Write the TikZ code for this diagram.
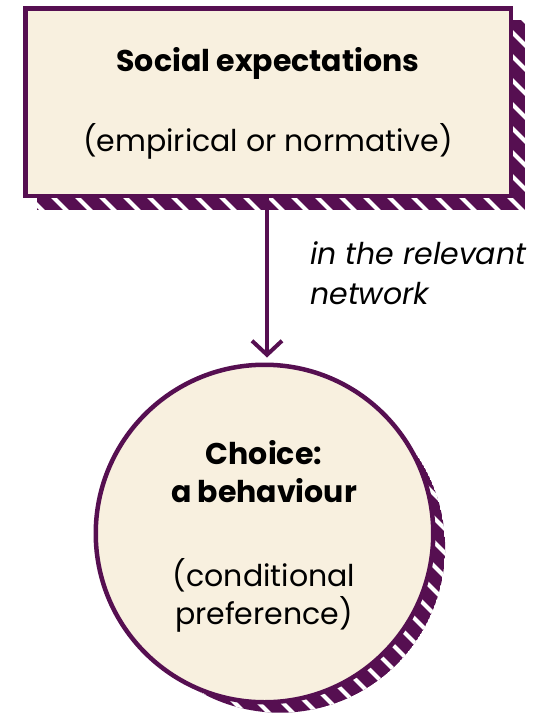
\documentclass[tikz,border=0pt]{standalone}
\usepackage{fontspec}
\setmainfont{Poppins}
\usetikzlibrary{arrows.meta,calc,shapes.geometric}
\definecolor{plum}{HTML}{560F51}
\definecolor{cream}{HTML}{F8F0DF}
\tikzset{
  mainshape/.style={draw=plum, fill=cream, line width=4.5pt, inner sep=0pt, align=center, text=black},
  hatchline/.style={white, line width=4pt},
  flow/.style={draw=plum, line width=4pt, -{Straight Barb[length=14pt,width=30pt,line width=4pt]}},
  lbl/.style={font=\fontsize{30}{40}\selectfont\itshape, align=left, anchor=base west, inner sep=0pt},
  txt/.style={align=center, inner sep=0pt, text=black},
}
\begin{document}
\begin{tikzpicture}[x=1pt,y=-1pt]
\useasboundingbox (0,0) rectangle (546,716);
% rectangle shadow
\begin{scope}
  \clip (37,20) rectangle (525,210);
  \fill[plum] (37,20) rectangle (525,210);
  \foreach \i in {-240,-216,...,540} {
    \draw[hatchline] (\i,0) -- ++(260,260);
  }
\end{scope}
% circle shadow
\begin{scope}
  \clip (280,547.6) circle [radius=165.1pt];
  \fill[plum] (280,547.6) circle [radius=165.1pt];
  \foreach \i in {-240,-216,...,620} {
    \draw[hatchline] (\i,300) -- ++(460,460);
  }
\end{scope}
\node[mainshape, minimum width=485.5pt, minimum height=187.5pt] (exp) at (268,102) {};
\node[txt, font=\fontsize{30}{34}\selectfont] (exptext) at (268,103)
  {\textbf{Social expectations}\\[43pt](empirical or normative)};
\node[mainshape, circle, minimum size=337.5pt] (choice) at (264.5,533.5) {};
\node[txt, font=\fontsize{30}{38}\selectfont] (ctext) at (264,536)
  {\textbf{Choice:}\\\textbf{a behaviour}\\[46pt](conditional\\preference)};
\draw[flow, shorten >=5pt] (exp.south -| 267,0) -- (choice.north -| 267,0);
\node[lbl] (net) at (310,304) {in the relevant\\network};
\end{tikzpicture}
\end{document}
